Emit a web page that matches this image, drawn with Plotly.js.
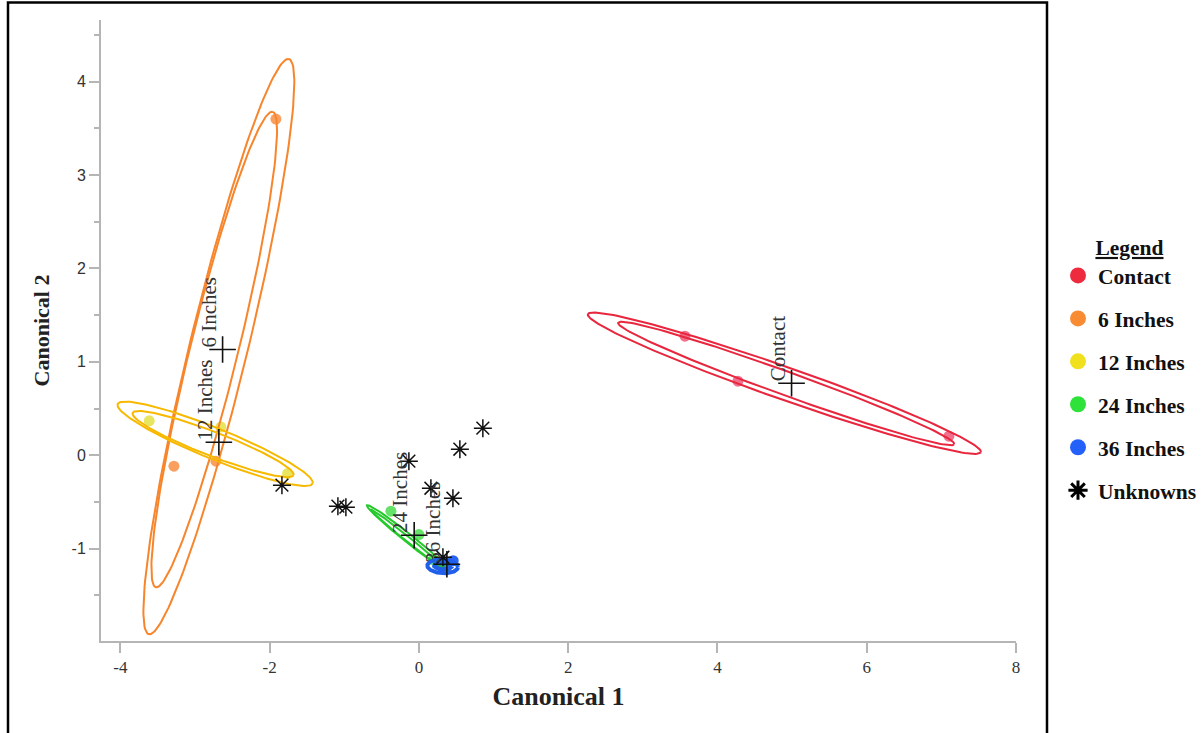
<!DOCTYPE html>
<html>
<head>
<meta charset="utf-8">
<script src="https://cdn.plot.ly/plotly-3.0.1.min.js"></script>
<style>html,body{margin:0;padding:0;background:#fff;}#chart{width:1203px;height:733px;}</style>
</head>
<body>
<div id="chart"></div>
<script>
// ---------- data ----------
const groups = ["Contact", "6 Inches", "12 Inches", "24 Inches", "36 Inches"];
const pointColors = ["#EC4E72", "#F7883A", "#E2DE3A", "#3EDC44", "#2A64F2"];
const legendColors = ["#EE2A3F", "#F98B33", "#F0E01E", "#2EE23A", "#2461F9"];
const ellipseColors = ["#E8263E", "#F7852C", "#F7B900", "#25C92B", "#1F5FEA"];

// observations (Canonical 1, Canonical 2) per group
const contactX = [3.564, 4.274, 7.101];
const contactY = [1.275, 0.793, 0.204];
const in6X = [-1.916, -3.282, -2.720];
const in6Y = [3.600, -0.118, -0.064];
const in12X = [-3.613, -2.653, -1.759];
const in12Y = [0.368, 0.303, -0.196];
const in24X = [-0.375, 0.000, 0.190];
const in24Y = [-0.600, -0.850, -1.120];
const in36X = [0.300, 0.460, 0.370];
const in36Y = [-1.190, -1.130, -1.190];

// group means (+ markers)
const meanX = [4.993, -2.630, -2.680, -0.063, 0.375];
const meanY = [0.771, 1.132, 0.139, -0.857, -1.168];

// unknown samples
const unknownX = [-1.835, -1.085, -0.978, -0.134, 0.161, 0.456, 0.549, 0.857, 0.322];
const unknownY = [-0.321, -0.546, -0.557, -0.064, -0.354, -0.461, 0.064, 0.289, -1.093];

// ellipses: centre, semi-major vector, minor/major ratio (outer, inner per group)
const ellCX   = [4.897, 4.921, -2.680, -2.742, -2.730, -2.757, -0.145, -0.152, 0.318, 0.322];
const ellCY   = [0.771, 0.768, 1.163, 1.132, 0.122, 0.119, -0.888, -0.898, -1.190, -1.188];
const ellAX   = [2.633, 2.251, 0.938, 0.782, 1.306, 1.078, 0.551, 0.491, 0.205, 0.120];
const ellAY   = [-0.739, -0.650, 3.080, 2.546, -0.425, -0.333, -0.352, -0.316, -0.010, -0.006];
const ellR    = [0.078, 0.066, 0.098, 0.098, 0.147, 0.140, 0.080, 0.050, 0.45, 0.35];
const ellGroup = [0, 0, 1, 1, 2, 2, 3, 3, 4, 4];

// ticks
const xTicks = [-4, -2, 0, 2, 4, 6, 8];
const yTicks = [-1, 0, 1, 2, 3, 4];

// ---------- layout geometry ----------
const W = 1203, H = 733;
const M = {l: 101, r: 187, t: 20, b: 92, autoexpand: false};
const xRange = [-4.259, 8.0];
const yRange = [-1.99, 4.661];
const PW = W - M.l - M.r, PH = H - M.t - M.b;
const aspect = (PH / (yRange[1] - yRange[0])) / (PW / (xRange[1] - xRange[0]));

function ellipse(i) {
  const ax = ellAX[i], ay = ellAY[i], r = ellR[i];
  const bx = -ay * aspect * r, by = ax / aspect * r;
  const xs = [], ys = [];
  for (let k = 0; k <= 180; k++) {
    const t = k / 180 * 2 * Math.PI;
    xs.push(ellCX[i] + ax * Math.cos(t) + bx * Math.sin(t));
    ys.push(ellCY[i] + ay * Math.cos(t) + by * Math.sin(t));
  }
  return {xs, ys};
}

const serif = "Liberation Serif";
const sans = "Liberation Sans";

const ptsX = [contactX, in6X, in12X, in24X, in36X];
const ptsY = [contactY, in6Y, in12Y, in24Y, in36Y];

const traces = [];
// observation points
groups.forEach((g, gi) => {
  traces.push({
    type: "scatter", mode: "markers", name: g, legendgroup: g, showlegend: false,
    x: ptsX[gi], y: ptsY[gi],
    marker: {size: 11, color: pointColors[gi], opacity: gi === 4 ? 1 : 0.8, line: {width: 0}},
    hoverinfo: "x+y+name"
  });
});
// ellipses
ellCX.forEach((_, i) => {
  const e = ellipse(i);
  const gi = ellGroup[i];
  traces.push({
    type: "scatter", mode: "lines", x: e.xs, y: e.ys, showlegend: false,
    legendgroup: groups[gi], hoverinfo: "skip",
    line: {color: ellipseColors[gi], width: gi === 4 ? 4 : 2}
  });
});
// group means
traces.push({
  type: "scatter", mode: "markers", x: meanX, y: meanY, showlegend: false,
  text: groups, hoverinfo: "text+x+y",
  marker: {symbol: "cross-thin-open", size: 19, color: "#111", line: {width: 1.6, color: "#111"}}
});
// unknowns
traces.push({
  type: "scatter", mode: "markers", name: "Unknowns", legendgroup: "Unknowns", showlegend: false,
  x: unknownX, y: unknownY,
  marker: {symbol: "asterisk-open", size: 15, color: "#111", line: {width: 1.5, color: "#111"}}
});
// legend entries
groups.forEach((g, gi) => {
  traces.push({
    type: "scatter", mode: "markers", name: g, legendgroup: g,
    x: [null], y: [null],
    marker: {size: 22, color: legendColors[gi]}
  });
});
traces.push({
  type: "scatter", mode: "markers", name: "Unknowns", legendgroup: "Unknowns",
  x: [null], y: [null],
  marker: {symbol: "asterisk-open", size: 22, color: "#000", line: {width: 3, color: "#000"}}
});

const annotations = groups.map((g, gi) => ({
  x: meanX[gi], y: meanY[gi], xref: "x", yref: "y",
  text: g, showarrow: false, textangle: -90,
  xanchor: "right", yanchor: "bottom",
  font: {family: serif, size: 21, color: "#333"}
}));

const layout = {
  width: W, height: H,
  margin: M,
  paper_bgcolor: "#fff", plot_bgcolor: "#fff",
  showlegend: true,
  legend: {
    x: (1058 - M.l) / PW, xanchor: "left",
    y: (H - M.b - 227) / PH, yanchor: "top",
    bgcolor: "rgba(0,0,0,0)", borderwidth: 0,
    font: {family: serif, size: 21.5, color: "#111", weight: "bold"},
    title: {text: "<u>Legend</u>", side: "top center", font: {family: serif, size: 21.5, color: "#111", weight: "bold"}},
    tracegroupgap: 12, itemsizing: "trace"
  },
  xaxis: {
    range: xRange, tickmode: "array", tickvals: xTicks, ticktext: xTicks.map(String),
    showgrid: false, zeroline: false, showline: true, linecolor: "#b5b5b5", linewidth: 2,
    ticks: "outside", ticklen: 10, tickwidth: 1.5, tickcolor: "#b5b5b5",
    tickfont: {family: serif, size: 17, color: "#333"},
    title: {text: "Canonical 1", standoff: 10, font: {family: serif, size: 26, color: "#222", weight: "bold"}},
    automargin: false
  },
  yaxis: {
    range: yRange, tickmode: "array", tickvals: yTicks, ticktext: yTicks.map(String),
    showgrid: false, zeroline: false, showline: true, linecolor: "#b5b5b5", linewidth: 2,
    ticks: "outside", ticklen: 10, tickwidth: 1.5, tickcolor: "#b5b5b5",
    minor: {dtick: 0.5, tick0: 0, ticks: "outside", ticklen: 5, tickwidth: 1.5, tickcolor: "#b5b5b5", showgrid: false},
    tickfont: {family: sans, size: 16, color: "#333"},
    title: {text: "Canonical 2", standoff: 16, font: {family: serif, size: 22, color: "#222", weight: "bold"}},
    automargin: false
  },
  annotations: annotations,
  shapes: [{
    type: "rect", xref: "paper", yref: "paper",
    x0: (8 - M.l) / PW, x1: (1047 - M.l) / PW,
    y0: -0.4, y1: (H - M.b - 2.5) / PH,
    line: {color: "#000", width: 2.5}, fillcolor: "rgba(0,0,0,0)", layer: "above"
  }]
};

Plotly.newPlot("chart", traces, layout, {displayModeBar: false, responsive: false});
</script>
</body>
</html>
